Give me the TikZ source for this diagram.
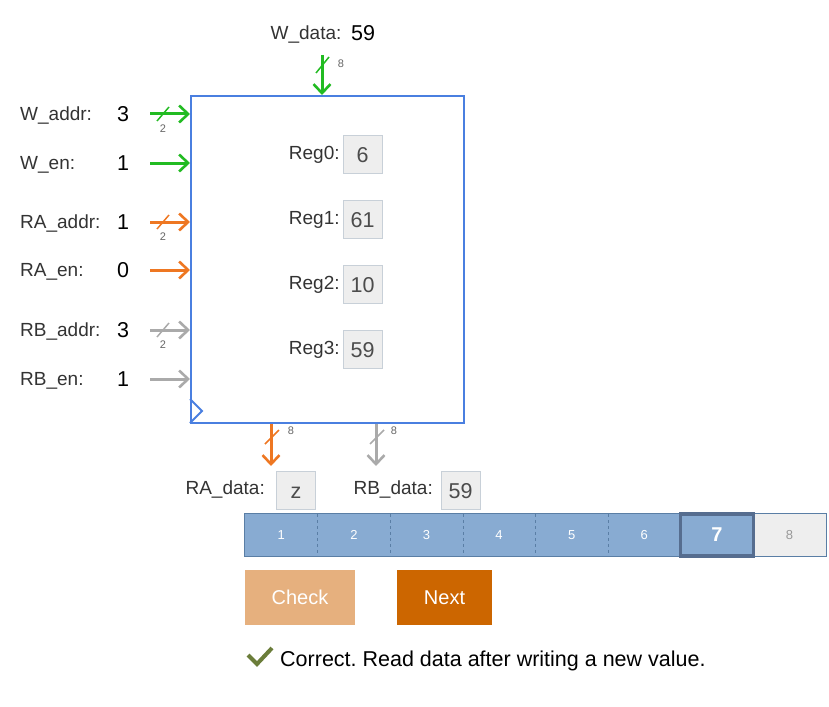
\documentclass[tikz,border=0pt]{standalone}
\usepackage{fontspec}
\setmainfont{Liberation Sans}
\usetikzlibrary{arrows.meta,positioning,calc}
\definecolor{rfblue}{HTML}{4A7FE0}
\definecolor{wirgreen}{HTML}{22BB22}
\definecolor{wirorange}{HTML}{EE7722}
\definecolor{wirgray}{HTML}{AAAAAA}
\definecolor{boxfill}{HTML}{EEEEEE}
\definecolor{boxline}{HTML}{C8D0D8}
\definecolor{cellblue}{HTML}{88ABD2}
\definecolor{cellline}{HTML}{5A7EA5}
\definecolor{cellframe}{HTML}{566D8F}
\definecolor{checkbtn}{HTML}{E6B07E}
\definecolor{nextbtn}{HTML}{CC6600}
\definecolor{okgreen}{HTML}{6B7D3A}
\frenchspacing
\begin{document}
\begin{tikzpicture}[x=1pt,y=-1pt,
  lbl/.style={text=black!80,font=\fontsize{19}{21}\selectfont,inner sep=0pt,text height=13.6pt,text depth=0pt},
  val/.style={font=\fontsize{21.5}{24}\selectfont,inner sep=0pt,text height=15.4pt,text depth=0pt},
  tiny/.style={text=black!60,font=\fontsize{11}{12}\selectfont,inner sep=0pt},
  wire/.style={draw=#1,line width=3pt,-{Straight Barb[length=9pt,width=17pt,line width=2.6pt]}},
  slash/.style={draw=#1,line width=1.5pt},
  regbox/.style={draw=boxline,fill=boxfill,minimum width=39pt,minimum height=38pt,inner sep=0pt,
    font=\fontsize{21.5}{24}\selectfont,text=black!70,text height=15.4pt,text depth=0pt},
  cell/.style={fill=cellblue,minimum width=72.6pt,minimum height=42pt,inner sep=0pt,
    text=white,font=\fontsize{13}{14}\selectfont},
  btn/.style={fill=#1,minimum height=55pt,inner sep=0pt,text=white,font=\fontsize{20}{22}\selectfont}]
\useasboundingbox (0,0) rectangle (829,706);
% register file
\node[draw=rfblue,line width=2pt,minimum width=273pt,minimum height=327pt,inner sep=0pt] (rf) at (327.5,259.5) {};
\draw[rfblue,line width=2pt] (rf.south west) ++(0,-25) -- ++(12,12) -- ++(-12,12);
% inputs
\foreach \y/\txt/\v/\c [count=\i] in {114/W\_addr/3/wirgreen,163/W\_en/1/wirgreen,
    222/RA\_addr/1/wirorange,270/RA\_en/0/wirorange,330/RB\_addr/3/wirgray,379/RB\_en/1/wirgray}{
  \node[lbl,anchor=west] (in\i) at (20,\y) {\txt:};
  \node[val] (v\i) at (123,\y) {\v};
  \coordinate (s\i) at (150,\y);
  \draw[wire=\c] (s\i) -- (s\i -| rf.west);
}
\foreach \i/\c in {1/wirgreen,3/wirorange,5/wirgray}{
  \draw[slash=\c] ($(s\i)+(7,7)$) -- ($(s\i)+(19,-7)$);
  \node[tiny] at ($(s\i)+(13,15)$) {2};
}
% write data
\node[lbl] (wd) at (306,33) {W\_data:};
\node[val] (wdv) at (363,33) {59};
\coordinate (wtop) at (322,55);
\draw[wire=wirgreen] (wtop) -- (wtop |- rf.north);
\draw[slash=wirgreen] (316,73) -- (329,57);
\node[tiny] at (341,64) {8};
% registers
\foreach \y/\v [count=\i from 0] in {154.5/6,219.5/61,284.5/10,349.5/59}{
  \node[regbox] (r\i) at (362.5,\y) {\v};
  \node[lbl,anchor=east] (rl\i) at ([xshift=-3pt,yshift=2pt]r\i.west) {Reg\i:};
}
% outputs
\coordinate (ra) at (271,466);
\coordinate (rb) at (376,466);
\draw[wire=wirorange] (ra |- rf.south) -- (ra);
\draw[wire=wirgray] (rb |- rf.south) -- (rb);
\draw[slash=wirorange] (265,444) -- (279,430);
\draw[slash=wirgray] (370,444) -- (384,430);
\node[tiny] at (291,431) {8};
\node[tiny] at (394,431) {8};
\node[regbox] (rad) at (296,490.5) {z};
\node[lbl,anchor=east] (ral) at (265,488) {RA\_data:};
\node[regbox] (rbd) at (460.5,490.5) {59};
\node[lbl,anchor=east] (rbl) at (433,488) {RB\_data:};
% progress bar
\foreach \i in {1,...,7}
  \node[cell] (c\i) at (245+72.6*\i-36.3,535) {};
\node[cell,fill=boxfill,text=black!40] (c8) at (245+72.6*8-36.3,535) {8};
\draw[cellline,line width=1pt] (c1.north west) rectangle (c8.south east);
\foreach \i in {1,...,5}
  \draw[cellline,dashed,line width=0.8pt] (c\i.north east) -- (c\i.south east);
\draw[cellline,line width=0.8pt] (c6.north east) -- (c6.south east);
\foreach \i in {1,...,6}
  \node[text=white,font=\fontsize{13}{14}\selectfont] at (c\i) {\i};
\draw[cellframe,line width=3.5pt] (c7.north west) rectangle (c7.south east);
\node[text=white,font=\fontsize{20}{22}\selectfont\bfseries] at (c7) {7};
% buttons
\node[btn=checkbtn,minimum width=110pt] (chk) at (300,597.5) {Check};
\node[btn=nextbtn,minimum width=95pt] (nxt) at (444.5,597.5) {Next};
% feedback
\draw[okgreen,line width=4pt] (248,655) -- (257,664) -- (272,648);
\node[anchor=west,inner sep=0pt,font=\fontsize{21.5}{24}\selectfont] (msg) at (280,661) {Correct. Read data after writing a new value.};
\end{tikzpicture}
\end{document}
